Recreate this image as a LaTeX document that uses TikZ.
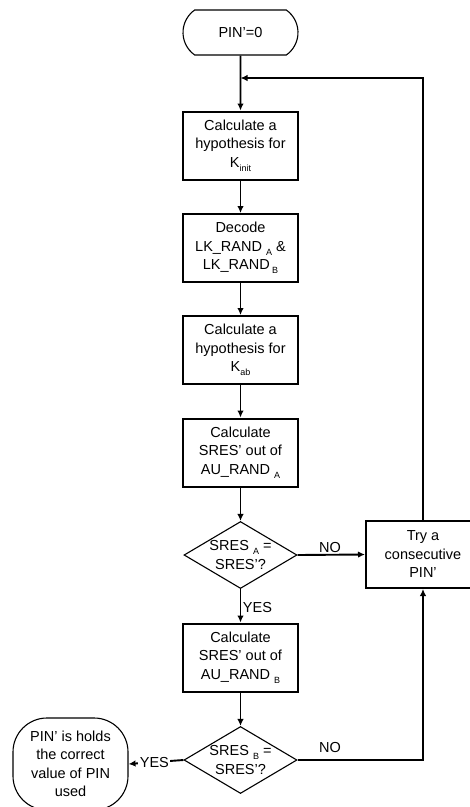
\documentclass[tikz,border=0pt]{standalone}
\usepackage{fontspec}
\setmainfont{Liberation Sans}
\usetikzlibrary{shapes.geometric,shapes.misc,arrows.meta}
% lowered small index used in the box texts
\newcommand{\lsub}[1]{\raisebox{-0.55ex}{\fontsize{9}{9}\selectfont #1}}

\begin{document}
\begin{tikzpicture}[x=1pt,y=-1pt,
  every node/.style={font=\fontsize{14.5}{18.5}\selectfont, align=center},
  procbox/.style={draw, line width=2pt, minimum width=115pt, minimum height=68pt, inner sep=0pt},
  decision/.style={draw, diamond, line width=1.1pt, minimum width=113pt, minimum height=67pt, inner sep=0pt},
  terminal/.style={draw, line width=1.1pt, rounded rectangle, rounded rectangle arc length=110, minimum width=115pt, minimum height=45pt, inner sep=0pt},
  endbox/.style={draw, line width=1.1pt, rounded corners=34pt, minimum width=115pt, minimum height=92pt, inner sep=0pt},
  flow/.style={line width=1.9pt, -{Latex[length=7pt,width=6.5pt]}},
  tag/.style={inner sep=1.5pt}
]
\useasboundingbox (0,0) rectangle (470,807);

% main column
\node[terminal] (start) at (240.5,32.5) {PIN'=0};
\node[procbox] (kinit) at (240.5,145.5) {Calculate a\\hypothesis for\\K\lsub{init}};
\node[procbox] (decode) at (240.5,248) {Decode\\LK\_RAND \lsub{A} \&\\LK\_RAND\,\lsub{B}};
\node[procbox] (kab) at (240.5,350) {Calculate a\\hypothesis for\\K\lsub{ab}};
\node[procbox] (sresa) at (240.5,452.5) {Calculate\\SRES' out of\\AU\_RAND \lsub{A}};
\node[decision, label={center:SRES \lsub{A} =\\SRES'?}] (cmpa) at (240.5,555) {};
\node[procbox] (sresb) at (240.5,657.5) {Calculate\\SRES' out of\\AU\_RAND \lsub{B}};
\node[decision, label={center:SRES \lsub{B} =\\SRES'?}] (cmpb) at (240.5,760) {};

% side boxes
\node[procbox, minimum width=114pt, minimum height=67pt] (next) at (423,554.5) {Try a\\consecutive\\PIN'};
\node[endbox] (found) at (70.5,764) {PIN' is holds\\the correct\\value of PIN\\used};

% loop-back junction
\coordinate (loopin) at (240.5,78);

% connectors
\draw[flow] (start) -- (kinit);
\draw[flow] (kinit) -- (decode);
\draw[flow] (decode) -- (kab);
\draw[flow] (kab) -- (sresa);
\draw[flow] (sresa) -- (cmpa);
\draw[flow] (cmpa) -- node[tag, right, pos=0.55] {YES} (sresb);
\draw[flow] (sresb) -- (cmpb);
\draw[flow] (cmpa.east) -- node[tag, above, pos=0.48] {NO} (next.west);
\draw[flow] (cmpb.east) -| (next.south);
\node[tag] at (330,747) {NO};
\draw[flow] (next.north) |- (loopin);
\draw[flow] (cmpb.west) -- node[tag, fill=white, pos=0.53] {YES} (found.east);
\end{tikzpicture}
\end{document}
